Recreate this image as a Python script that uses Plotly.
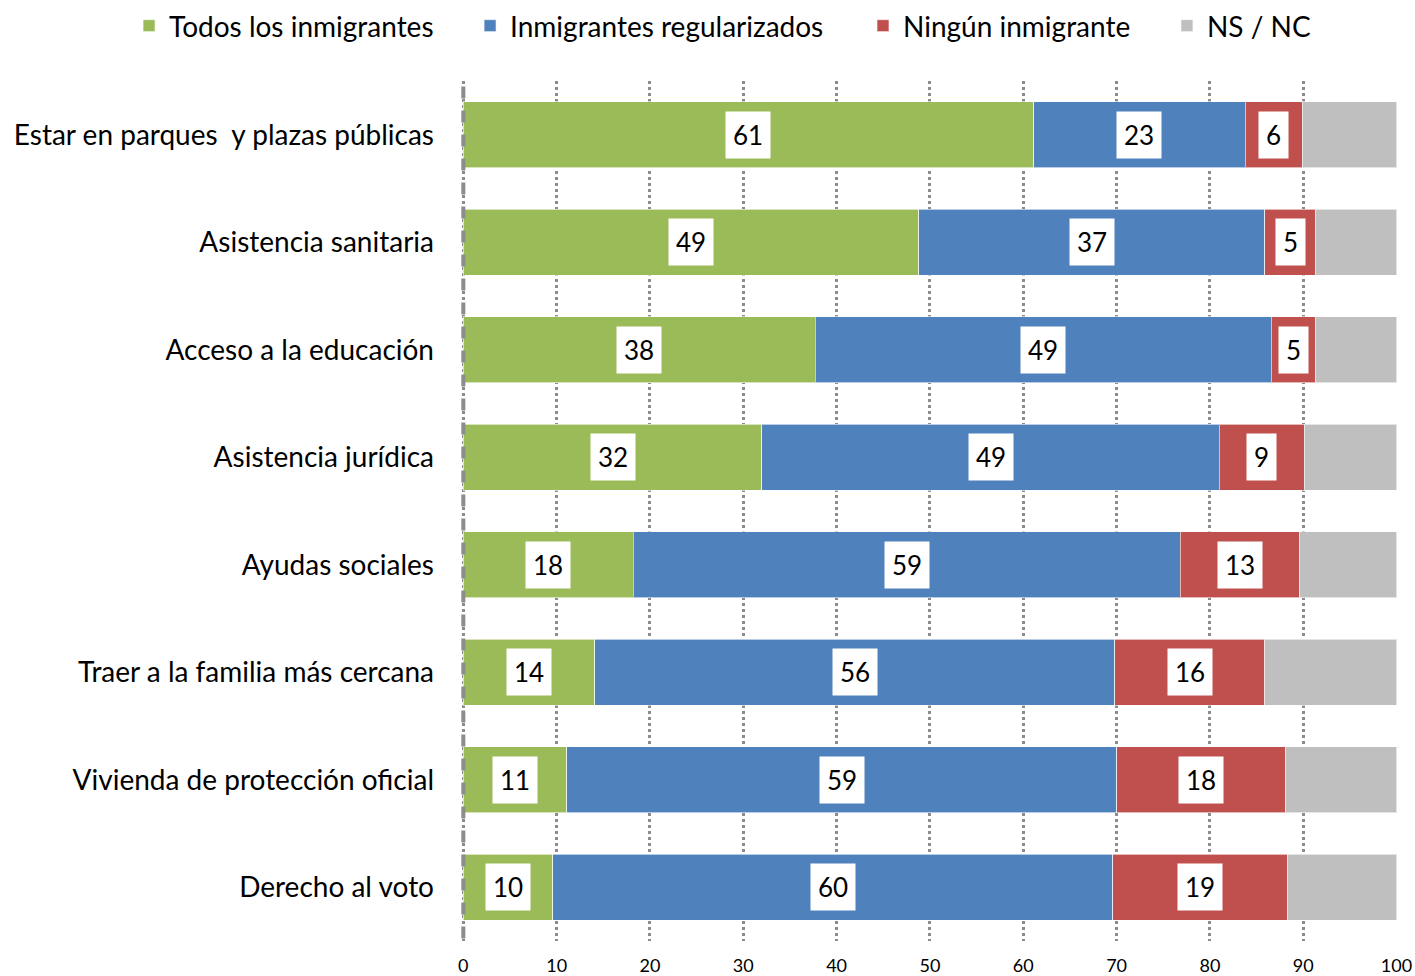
import plotly.graph_objects as go

categories = ['Estar en parques  y plazas públicas', 'Asistencia sanitaria', 'Acceso a la educación',
              'Asistencia jurídica', 'Ayudas sociales', 'Traer a la familia más cercana',
              'Vivienda de protección oficial', 'Derecho al voto']

todos = [61.1, 48.8, 37.7, 32.0, 18.2, 14.1, 11.1, 9.6]
regularizados = [22.7, 37.1, 48.9, 49.0, 58.6, 55.7, 58.9, 60.0]
ninguno = [6.1, 5.4, 4.7, 9.1, 12.8, 16.1, 18.1, 18.7]
nsnc = [10.1, 8.7, 8.7, 9.9, 10.4, 14.1, 11.9, 11.7]

series = [
    ('Todos los inmigrantes', todos, '#9BBB59', True),
    ('Inmigrantes regularizados', regularizados, '#4F81BD', True),
    ('Ningún inmigrante', ninguno, '#C0504D', True),
    ('NS / NC', nsnc, '#BFBFBF', False),
]

FONT = 'Lato, Liberation Sans, sans-serif'

# one legend per series so each entry can sit where the original has it
legend_ids = ['legend', 'legend2', 'legend3', 'legend4']
legend_x = [0.0912, 0.3322, 0.6099, 0.8247]

fig = go.Figure()
for (name, vals, color, _), lg in zip(series, legend_ids):
    fig.add_trace(go.Bar(
        y=categories, x=vals, name=name, orientation='h', legend=lg, showlegend=True,
        marker=dict(color=color, line=dict(color='rgba(255,255,255,0.6)', width=1)),
        hoverinfo='x+name',
    ))

# data labels in white boxes at the centre of each segment
base = [0.0] * len(categories)
for name, vals, color, labelled in series:
    for i, v in enumerate(vals):
        if labelled:
            fig.add_annotation(x=base[i] + v / 2, y=categories[i], text=str(round(v)),
                               showarrow=False, bgcolor='white', borderpad=7,
                               font=dict(family=FONT, size=26, color='black'))
        base[i] += v

# dashed axis line at zero
fig.add_shape(type='line', xref='x', yref='paper', x0=0, x1=0, y0=0.003, y1=0.998,
              line=dict(color='#8c8c8c', width=4, dash='dash'), layer='above')

legends = {}
for lg, lx in zip(legend_ids, legend_x):
    legends[lg] = dict(orientation='h', xref='container', x=lx, xanchor='left',
                       yref='container', y=0.9734, yanchor='middle',
                       font=dict(size=28), itemwidth=30, bgcolor='rgba(0,0,0,0)')

fig.update_layout(
    barmode='stack',
    bargap=0.386,
    width=1415, height=976,
    margin=dict(l=461, r=18, t=81, b=35, autoexpand=False),
    paper_bgcolor='white', plot_bgcolor='white',
    font=dict(family=FONT, size=26, color='black'),
    showlegend=True,
    **legends,
)
fig.update_xaxes(range=[-0.25, 100.05], dtick=10, tick0=0, showgrid=True, gridcolor='#8c8c8c',
                 griddash='dot', gridwidth=2.5, zeroline=False, showline=False,
                 tickfont=dict(size=18), ticklabelstandoff=12, fixedrange=True, automargin=False)
fig.update_yaxes(autorange='reversed', showgrid=False, showline=False, zeroline=False,
                 ticks='', ticklabelstandoff=26, tickfont=dict(size=28), automargin=False)

# drop the default 8px page margin so the figure fills the window exactly
fig.write_html('out.html', config={'displayModeBar': False},
               post_script="document.body.style.margin = '0';")
